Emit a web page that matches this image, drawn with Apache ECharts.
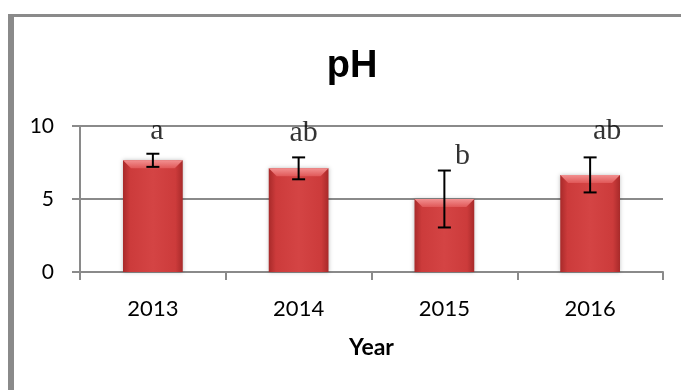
<!DOCTYPE html>
<html>
<head>
<meta charset="utf-8">
<script src="https://cdn.jsdelivr.net/npm/echarts@6/dist/echarts.min.js"></script>
<style>
  html, body { margin: 0; padding: 0; background: #fff; }
  #chart { width: 681px; height: 390px; }
</style>
</head>
<body>
<div id="chart"></div>
<script>
// 数据
var years = ['2013', '2014', '2015', '2016'];
var phMean = [7.65, 7.1, 5.0, 6.65];
var phErr = [0.45, 0.75, 1.95, 1.2];
var letters = ['a', 'ab', 'b', 'ab'];
// 字母标注所在高度
var letterAt = [9.66, 9.52, 7.95, 9.66];
var yTicks = [0, 5, 10];

var letterShift = [4, 5, 18, 17];
var gray = '#8a8a8a';

var chart = echarts.init(document.getElementById('chart'));

// 柱子：带顶部斜面的红色柱
function renderBar(params, api) {
  var x = api.value(0);
  var top = api.coord([x, api.value(1)]);
  var base = api.coord([x, 0]);
  var w = api.size([1, 0])[0] * 0.41;
  var l = top[0] - w / 2, r = top[0] + w / 2;
  var b = 8;
  return {
    type: 'group',
    children: [{
      type: 'rect',
      shape: { x: l, y: top[1], width: w, height: base[1] - top[1] },
      style: {
        fill: new echarts.graphic.LinearGradient(0, 0, 1, 0, [
          { offset: 0, color: '#a82a2a' },
          { offset: 0.12, color: '#cc3b3b' },
          { offset: 0.5, color: '#d44444' },
          { offset: 0.88, color: '#cc3b3b' },
          { offset: 1, color: '#a82a2a' }
        ]),
        shadowBlur: 4,
        shadowColor: 'rgba(0,0,0,0.25)'
      }
    }, {
      type: 'polygon',
      shape: { points: [[l, top[1]], [r, top[1]], [r - b, top[1] + b], [l + b, top[1] + b]] },
      style: {
        fill: new echarts.graphic.LinearGradient(0, 0, 0, 1, [
          { offset: 0, color: '#f29090' },
          { offset: 1, color: '#e05858' }
        ])
      }
    }]
  };
}

// 误差线
function renderErr(params, api) {
  var x = api.value(0);
  var hi = api.coord([x, api.value(1)]);
  var lo = api.coord([x, api.value(2)]);
  var c = 6.5;
  var st = { stroke: '#000', lineWidth: 2 };
  return {
    type: 'group',
    children: [
      { type: 'line', shape: { x1: hi[0], y1: hi[1], x2: lo[0], y2: lo[1] }, style: st },
      { type: 'line', shape: { x1: hi[0] - c, y1: hi[1], x2: hi[0] + c, y2: hi[1] }, style: st },
      { type: 'line', shape: { x1: lo[0] - c, y1: lo[1], x2: lo[0] + c, y2: lo[1] }, style: st }
    ]
  };
}

var barData = phMean.map(function (v, i) { return [i, v]; });
var errData = phMean.map(function (v, i) { return [i, v + phErr[i], v - phErr[i]]; });
var letterData = letterAt.map(function (v, i) {
  return {
    value: [i, v],
    label: { offset: [letterShift[i], 0], formatter: letters[i] }
  };
});

var option = {
  animation: false,
  graphic: [
    { type: 'rect', shape: { x: 8, y: 14, width: 673, height: 3 }, style: { fill: gray } },
    { type: 'rect', shape: { x: 8, y: 14, width: 6, height: 376 }, style: { fill: gray } },
    {
      type: 'text', x: 352, y: 67,
      style: {
        text: 'pH', fill: '#000', align: 'center', verticalAlign: 'middle',
        font: 'bold 38px "Liberation Sans", Arial, sans-serif'
      }
    }
  ],
  grid: { left: 80, right: 18, top: 126, bottom: 118 },
  xAxis: {
    type: 'category',
    data: years,
    name: 'Year',
    nameLocation: 'middle',
    nameGap: 64,
    nameTextStyle: { fontFamily: 'Lato', fontWeight: 'bold', fontSize: 23, color: '#000' },
    axisLine: { lineStyle: { color: gray, width: 2 } },
    axisTick: { show: true, length: 8, lineStyle: { color: gray, width: 2 } },
    axisLabel: { margin: 26, fontFamily: 'Lato', fontSize: 22, color: '#000' },
    splitLine: { show: false }
  },
  yAxis: {
    type: 'value',
    min: yTicks[0],
    max: yTicks[yTicks.length - 1],
    interval: yTicks[1] - yTicks[0],
    axisLine: { show: true, lineStyle: { color: gray, width: 2 } },
    axisTick: { show: true, length: 8, lineStyle: { color: gray, width: 2 } },
    axisLabel: { margin: 26, fontFamily: 'Lato', fontSize: 21, color: '#000' },
    splitLine: { lineStyle: { color: gray, width: 2 } }
  },
  series: [{
    type: 'custom',
    renderItem: renderBar,
    data: barData,
    z: 2
  }, {
    type: 'custom',
    renderItem: renderErr,
    data: errData,
    z: 3
  }, {
    type: 'scatter',
    symbolSize: 0,
    data: letterData,
    z: 4,
    label: {
      show: true,
      position: 'inside',
      align: 'center',
      verticalAlign: 'middle',
      fontFamily: '"Liberation Serif", "Times New Roman", serif',
      fontSize: 30,
      color: '#000'
    }
  }]
};

chart.setOption(option);
</script>
</body>
</html>
